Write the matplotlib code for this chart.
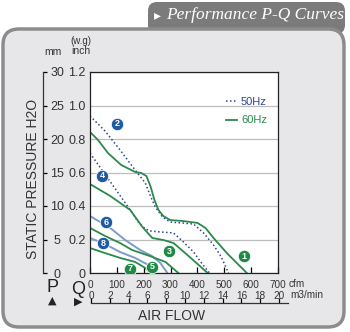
import matplotlib
matplotlib.use("Agg")
import matplotlib.pyplot as plt
from matplotlib.patches import FancyBboxPatch
from matplotlib.transforms import IdentityTransform

plt.rcParams['font.family'] = ['Liberation Sans', 'DejaVu Sans']

# flow in cfm, static pressure in inch H2O
curve1_q = [0, 30, 67, 116, 168, 191, 210, 225, 240, 255, 273, 299, 348, 400, 430, 460, 513, 584]
curve1_p = [0.842, 0.794, 0.716, 0.645, 0.603, 0.597, 0.579, 0.519, 0.436, 0.376, 0.340, 0.316,
            0.310, 0.299, 0.269, 0.209, 0.113, 0]
curve2_q = [0, 56, 112, 168, 206, 225, 243, 270, 299, 348, 386, 423, 460, 487, 516]
curve2_p = [0.938, 0.848, 0.734, 0.615, 0.537, 0.460, 0.394, 0.334, 0.304, 0.298, 0.292,
            0.239, 0.167, 0.101, 0]
curve3_q = [0, 75, 150, 195, 232, 273, 311, 363, 438]
curve3_p = [0.531, 0.46, 0.376, 0.275, 0.209, 0.197, 0.179, 0.107, 0]
curve4_q = [0, 71, 142, 180, 206, 225, 262, 311, 348, 386, 412, 445]
curve4_p = [0.716, 0.555, 0.394, 0.304, 0.263, 0.251, 0.245, 0.239, 0.185, 0.125, 0.066, 0]
curve5_q = [0, 56, 112, 157, 225, 281, 329]
curve5_p = [0.269, 0.221, 0.179, 0.137, 0.10, 0.066, 0]
curve6_q = [0, 75, 131, 187, 232, 262, 288]
curve6_p = [0.34, 0.269, 0.197, 0.137, 0.10, 0.06, 0]
curve7_q = [0, 56, 112, 168, 206, 224]
curve7_p = [0.149, 0.119, 0.09, 0.066, 0.03, 0]
curve8_q = [0, 56, 112, 168, 217, 243]
curve8_p = [0.209, 0.173, 0.125, 0.09, 0.048, 0]

badge_labels = ['1', '2', '3', '4', '5', '6', '7', '8']
badge_q = [572, 101, 296, 45, 232, 60, 150, 49]
badge_p = [0.10, 0.89, 0.13, 0.58, 0.036, 0.304, 0.024, 0.179]

cfm_ticks = [0, 100, 200, 300, 400, 500, 600, 700]
m3_ticks = [0, 2, 4, 6, 8, 10, 12, 14, 16, 18, 20]
inch_ticks = [0, 0.2, 0.4, 0.6, 0.8, 1.0, 1.2]
mm_ticks = [0, 5, 10, 15, 20, 25, 30]

GREEN = '#2a8a4c'
NAVY = '#2d4590'
LIGHTBLUE = '#7c9ccc'
BADGE_BLUE = '#1f5aa4'
BADGE_GREEN = '#1f8a45'

W, H = 350, 332
fig = plt.figure(figsize=(W / 100, H / 100), dpi=100)


def rect(x0, y0, x1, y1):
    # pixel box (top-left origin) -> figure fraction
    return [x0 / W, 1 - y1 / H, (x1 - x0) / W, (y1 - y0) / H]


# header tab and panel
tab = FancyBboxPatch((148, H - 34), 197, 32, boxstyle="round,pad=0,rounding_size=9",
                     transform=IdentityTransform(), facecolor='#7b7b7b', edgecolor='none', zorder=0)
fig.add_artist(tab)
panel = FancyBboxPatch((3, H - 327), 341, 298, boxstyle="round,pad=0,rounding_size=16",
                       transform=IdentityTransform(), facecolor='#e7e7e9', edgecolor='#8c8c8c',
                       linewidth=2.5, zorder=1)
fig.add_artist(panel)
fig.text(157 / W, 1 - 15 / H, '\u25B8', color='white', fontsize=10, ha='center', va='center',
         family='DejaVu Sans', zorder=3)
fig.text(166 / W, 1 - 15 / H, 'Performance P-Q Curves', color='white', fontsize=12.5,
         style='italic', family='Liberation Serif', ha='left', va='center', zorder=3)

# main plot
ax = fig.add_axes(rect(90, 72, 278, 273))
ax.set_zorder(2)
ax.set_facecolor('white')
ax.set_xlim(0, 700)
ax.set_ylim(0, 1.2)
ax.set_yticks(inch_ticks)
ax.set_yticklabels(['0' if v == 0 else f'{v:.1f}' for v in inch_ticks], fontsize=9, color='#333333')
ax.set_xticks(cfm_ticks)
ax.set_xticklabels([str(v) for v in cfm_ticks], fontsize=7.2, color='#333333')
ax.tick_params(axis='y', length=0, pad=3)
ax.tick_params(axis='x', direction='in', length=4, width=0.9, pad=5)
ax.grid(axis='y', color='#bdbdbd', linewidth=0.9)
ax.set_axisbelow(True)
for s in ax.spines.values():
    s.set_linewidth(0.9)
    s.set_color('#222222')

dot = (0, (1, 1.6))
ax.plot(curve2_q, curve2_p, color=NAVY, lw=1.1, ls=dot, label='50Hz')
ax.plot(curve1_q, curve1_p, color=GREEN, lw=1.3, label='60Hz')
ax.plot(curve4_q, curve4_p, color=NAVY, lw=1.1, ls=dot)
ax.plot(curve3_q, curve3_p, color=GREEN, lw=1.3)
ax.plot(curve6_q, curve6_p, color=LIGHTBLUE, lw=1.4)
ax.plot(curve8_q, curve8_p, color=LIGHTBLUE, lw=1.4)
ax.plot(curve5_q, curve5_p, color=GREEN, lw=1.3)
ax.plot(curve7_q, curve7_p, color=GREEN, lw=1.3)

for lab, q, p in zip(badge_labels, badge_q, badge_p):
    c = BADGE_GREEN if int(lab) % 2 else BADGE_BLUE
    ax.scatter(q, p, s=80, color=c, edgecolor='white', linewidth=0.6, zorder=5)
    ax.text(q, p, lab, color='white', fontsize=6.5, fontweight='bold', ha='center', va='center',
            zorder=6)

leg = ax.legend(loc='upper right', bbox_to_anchor=(0.995, 0.925), frameon=False, fontsize=8,
                handlelength=1.0, handletextpad=0.4, labelspacing=0.75, labelcolor='linecolor')

# mm scale on the left
ax_mm = fig.add_axes(rect(43, 72, 46, 273))
ax_mm.set_zorder(2)
ax_mm.patch.set_visible(False)
ax_mm.set_ylim(0, 30)
ax_mm.set_xticks([])
for k in ['top', 'right', 'bottom']:
    ax_mm.spines[k].set_visible(False)
ax_mm.spines['left'].set_color('#333333')
ax_mm.spines['left'].set_linewidth(0.9)
ax_mm.set_yticks(mm_ticks)
ax_mm.set_yticklabels([str(v) for v in mm_ticks], fontsize=9, color='#333333')
ax_mm.tick_params(axis='y', direction='in', length=3, width=0.9, left=True, right=False,
                  labelleft=False, labelright=True, pad=8)
for t in ax_mm.get_yticklabels():
    t.set_horizontalalignment('center')

# m3/min scale under the cfm scale
ax_m3 = fig.add_axes(rect(91, 302, 288, 303))
ax_m3.set_zorder(2)
ax_m3.patch.set_visible(False)
ax_m3.set_xlim(0, 20 * 197 / 188)
ax_m3.set_yticks([])
for k in ['top', 'right', 'left']:
    ax_m3.spines[k].set_visible(False)
ax_m3.spines['bottom'].set_color('#333333')
ax_m3.spines['bottom'].set_linewidth(0.9)
ax_m3.set_xticks(m3_ticks)
ax_m3.set_xticklabels([str(v) for v in m3_ticks], fontsize=7.2, color='#333333')
ax_m3.tick_params(axis='x', direction='in', length=3.5, width=0.9, labelbottom=False,
                  labeltop=True, bottom=True, top=False, pad=1)

# axis titles and unit texts
txt = dict(color='#333333', zorder=3)
fig.text(33 / W, 1 - 179 / H, 'STATIC PRESSURE H2O', rotation=90, fontsize=10, ha='center',
         va='center', **txt)
fig.text(172 / W, 1 - 316 / H, 'AIR FLOW', fontsize=10, ha='center', va='center', **txt)
fig.text(289 / W, 1 - 284 / H, 'cfm', fontsize=7.2, ha='left', va='center', **txt)
fig.text(290 / W, 1 - 295 / H, 'm3/min', fontsize=7.2, ha='left', va='center', **txt)
fig.text(53 / W, 1 - 52 / H, 'mm', fontsize=7.5, ha='center', va='center', **txt)
fig.text(81 / W, 1 - 51 / H, 'inch', fontsize=7.5, ha='center', va='center', **txt)
fig.text(81 / W, 1 - 41 / H, '(w.g)', fontsize=7, ha='center', va='center', **txt)
fig.text(52 / W, 1 - 288 / H, 'P', fontsize=13, ha='center', va='center', color='#222222', zorder=3)
fig.text(52 / W, 1 - 301 / H, '\u25B2', fontsize=8, ha='center', va='center', color='#222222',
         family='DejaVu Sans', zorder=3)
fig.text(78 / W, 1 - 289 / H, 'Q', fontsize=13, ha='center', va='center', color='#222222', zorder=3)
fig.text(78 / W, 1 - 302 / H, '\u25B6', fontsize=8, ha='center', va='center', color='#222222',
         family='DejaVu Sans', zorder=3)

fig.savefig('out.png', dpi=100)
